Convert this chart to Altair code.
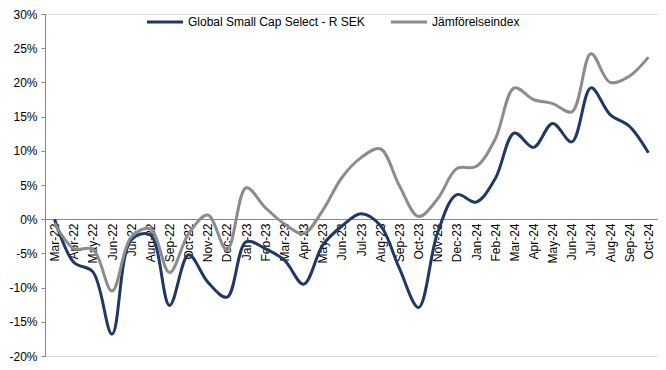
import altair as alt
import pandas as pd

months = ["Mar-22", "Apr-22", "May-22", "Jun-22", "Jul-22", "Aug-22", "Sep-22", "Oct-22",
          "Nov-22", "Dec-22", "Jan-23", "Feb-23", "Mar-23", "Apr-23", "May-23", "Jun-23",
          "Jul-23", "Aug-23", "Sep-23", "Oct-23", "Nov-23", "Dec-23", "Jan-24", "Feb-24",
          "Mar-24", "Apr-24", "May-24", "Jun-24", "Jul-24", "Aug-24", "Sep-24", "Oct-24"]

fund = [0.0, -6.3, -7.7, -16.8, -3.0, -2.3, -12.6, -5.2,
        -9.2, -11.4, -3.3, -4.3, -6.0, -9.5, -3.8, -1.0,
        0.8, -0.9, -7.2, -12.9, -1.9, 3.6, 2.5, 5.9,
        12.6, 10.5, 14.0, 11.3, 19.2, 15.3, 13.6, 9.7]

index = [-0.6, -4.3, -4.4, -10.5, -2.6, -1.4, -7.8, -2.1,
         0.6, -4.5, 4.6, 1.7, -0.7, -2.1, 1.3, 6.1,
         9.0, 10.3, 4.9, 0.4, 3.0, 7.4, 7.7, 11.7,
         19.2, 17.5, 16.9, 15.7, 24.2, 20.0, 20.9, 23.7]

series_names = ["Global Small Cap Select - R SEK", "Jämförelseindex"]
series_colors = ["#1F3864", "#8C8C8C"]

rows = []
for i, m in enumerate(months):
    rows.append({"month": m, "series": series_names[0], "value": fund[i] / 100, "order": 0})
    rows.append({"month": m, "series": series_names[1], "value": index[i] / 100, "order": 1})
df = pd.DataFrame(rows)

font = "Liberation Sans"

chart = alt.Chart(df).mark_line(strokeWidth=3, interpolate="catmull-rom").encode(
    x=alt.X("month:N", sort=months, scale=alt.Scale(type="point", padding=0.5),
            axis=alt.Axis(title=None, labelAngle=270, labelOverlap=False, ticks=False,
                          labelPadding=4, offset=-137, domainColor="#888888",
                          labelFont=font, labelFontSize=12, labelColor="#000000")),
    y=alt.Y("value:Q", scale=alt.Scale(domain=[-0.2, 0.3], nice=False),
            axis=alt.Axis(title=None, values=[-0.2, -0.15, -0.1, -0.05, 0, 0.05, 0.1, 0.15, 0.2, 0.25, 0.3],
                          labelExpr="(datum.value < -0.0001 ? '-' : '') + format(abs(datum.value), '.0%')",
                          grid=False, tickSize=4, labelPadding=4, domainColor="#888888",
                          tickColor="#888888", labelFont=font, labelFontSize=12,
                          labelColor="#000000")),
    color=alt.Color("series:N", scale=alt.Scale(domain=series_names, range=series_colors),
                    legend=alt.Legend(title=None, orient="none", legendX=100, legendY=-12,
                                      direction="horizontal", symbolType="stroke",
                                      symbolSize=1300, symbolStrokeWidth=3,
                                      labelFont=font, labelFontSize=12, labelColor="#000000",
                                      labelOffset=3, columnPadding=19, labelLimit=0)),
    detail="series:N",
    order="order:Q",
).properties(
    width=613, height=342,
    autosize=alt.AutoSizeParams(type="none"),
    padding={"left": 37, "top": 6, "right": 0, "bottom": 8},
).configure_view(stroke=None).configure(background="white")

chart.save("out.html", embed_options={"renderer": "svg", "actions": False})
